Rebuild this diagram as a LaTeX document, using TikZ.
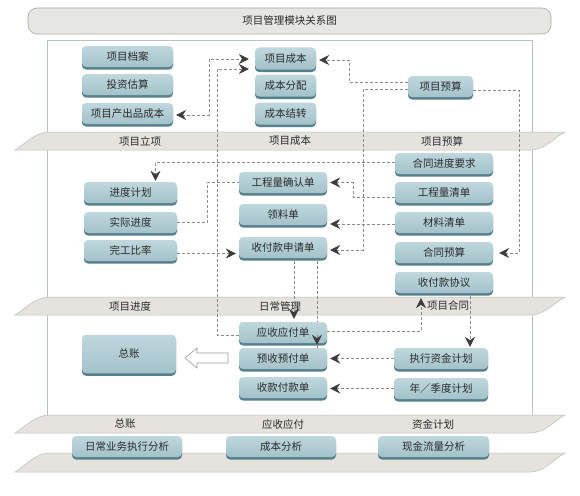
\documentclass[tikz,border=0pt]{standalone}
\usepackage{fontspec}
\newfontfamily\cjk{Noto Sans CJK SC}
\usetikzlibrary{arrows.meta,calc,shadows}
\definecolor{boxfill}{HTML}{A3C2CA}
\definecolor{boxtop}{HTML}{BFD7DD}
\definecolor{boxshade}{HTML}{56808B}
\definecolor{bandfill}{HTML}{E4E3DE}
\definecolor{bandline}{HTML}{BDBCB5}
\definecolor{framecol}{HTML}{B5C3C7}
\definecolor{dashcol}{HTML}{8A8A8A}
\definecolor{tipcol}{HTML}{3C3C3C}
\definecolor{txt}{HTML}{2B2B2B}
\definecolor{titlefill}{HTML}{E6E6E2}
\definecolor{titleline}{HTML}{A8A8A3}
\pgfdeclarelayer{bg}
\pgfsetlayers{bg,main}
\newcommand{\myband}[2]{\filldraw[band] (15,#2) .. controls (25,#2-6) and (35,#1) .. (50,#1) -- (565,#1) .. controls (552,#1+7) and (545,#2) .. (530,#2) -- cycle;}
\begin{document}
\begin{tikzpicture}[x=1pt,y=-1pt,
  >={Stealth[length=10pt,width=10pt,inset=3.5pt,color=tipcol]},
  box/.style={rounded corners=4pt, top color=boxtop, bottom color=boxfill,
    font=\cjk\fontsize{10.5}{12}\selectfont, text=txt, inner sep=0pt,
    minimum height=21pt,
    drop shadow={shadow xshift=0pt, shadow yshift=-2.5pt, fill=boxshade, opacity=1}},
  band/.style={fill=bandfill, draw=bandline, line width=0.5pt},
  bandlbl/.style={font=\cjk\fontsize{10.5}{12}\selectfont, text=txt, inner sep=0pt},
  title/.style={rounded corners=9pt, fill=titlefill, draw=titleline, line width=0.6pt,
    minimum width=523pt, minimum height=26pt, inner sep=0pt,
    font=\cjk\fontsize{10.5}{12}\selectfont, text=txt},
  conn/.style={draw=dashcol, line width=0.6pt, dash pattern=on 3pt off 2pt},
  arr/.style={conn, ->, shorten >=3pt},
  hollow/.style={fill=white, draw=gray!80, line width=0.6pt}
]
\useasboundingbox (0,0) rectangle (580,495);

\begin{pgfonlayer}{bg}
\draw[framecol, fill=white, line width=0.6pt] (47,40) rectangle (532,415);
\myband{132}{150}
\myband{297}{315}
\myband{415}{433}
\myband{453}{472}
\end{pgfonlayer}

\node[title] (title) at (289.5,21) {项目管理模块关系图};

% band labels
\node[bandlbl] (l1) at (140,141) {项目立项};
\node[bandlbl] (l2) at (290,141) {项目成本};
\node[bandlbl] (l3) at (442,141) {项目预算};
\node[bandlbl] (l4) at (130,306) {项目进度};
\node[bandlbl] (l5) at (280,306) {日常管理};
\node[bandlbl] (l6) at (448,306) {项目合同};
\node[bandlbl] (l7) at (125,424) {总账};
\node[bandlbl] (l8) at (283,424) {应收应付};
\node[bandlbl] (l9) at (433,424) {资金计划};

% top-left column
\node[box, minimum width=91pt] (xmda) at (127.5,56.5) {项目档案};
\node[box, minimum width=91pt] (tzgs) at (127.5,84.5) {投资估算};
\node[box, minimum width=91pt] (cpc)  at (127.5,113.5) {项目产出品成本};
% top-middle column
\node[box, minimum width=61pt, minimum height=22pt] (xmcb) at (285.5,58.5) {项目成本};
\node[box, minimum width=61pt, minimum height=22pt] (cbfp) at (285.5,85.5) {成本分配};
\node[box, minimum width=61pt, minimum height=22pt] (cbjz) at (285.5,113.5) {成本结转};
% top-right
\node[box, minimum width=65pt] (xmys) at (440.5,86.5) {项目预算};

% middle right column
\node[box, minimum width=98pt] (htjd)  at (444,163.5) {合同进度要求};
\node[box, minimum width=98pt] (gclqd) at (444,192.5) {工程量清单};
\node[box, minimum width=98pt] (clqd)  at (444,222.5) {材料清单};
\node[box, minimum width=98pt] (htys)  at (444,252.5) {合同预算};
\node[box, minimum width=98pt] (sfkxy) at (444,282.5) {收付款协议};
% middle left column
\node[box, minimum width=93pt] (jdjh) at (130.5,192.5) {进度计划};
\node[box, minimum width=93pt] (sjjd) at (130.5,222.5) {实际进度};
\node[box, minimum width=93pt] (wgbl) at (130.5,250.5) {完工比率};
% middle center column
\node[box, minimum width=88pt] (gclqr) at (283,182.5) {工程量确认单};
\node[box, minimum width=88pt] (llqd)  at (283,214.5) {领料单};
\node[box, minimum width=88pt] (sfksq) at (283,247.5) {收付款申请单};

% lower
\node[box, minimum width=94pt, minimum height=38.5pt] (zz) at (129,354) {总账};
\node[box, minimum width=88pt] (ysyf)   at (283,332.5) {应收应付单};
\node[box, minimum width=88pt] (yushou) at (283,358.5) {预收预付单};
\node[box, minimum width=88pt] (skfk)   at (283,387.5) {收款付款单};
\node[box, minimum width=94pt] (zxzj) at (441,358.5) {执行资金计划};
\node[box, minimum width=94pt] (nj)   at (441,388.5) {年／季度计划};

% bottom analysis boxes
\node[box, minimum width=110pt] (rcyw) at (127,446.5) {日常业务执行分析};
\node[box, minimum width=110pt] (cbfx) at (281,446.5) {成本分析};
\node[box, minimum width=111pt] (xjll) at (433.5,446.5) {现金流量分析};

% connectors
\draw[conn, <->, shorten <=3pt, shorten >=6pt] ($(cpc.east)+(0,1.5)$) -- ++(36,0) |- ($(xmcb.west)+(0,0.5)$);
\draw[arr, shorten >=6pt] ($(ysyf.west)+(0,2.5)$) -- ++(-22,0) |- ($(xmcb.west)+(0,10.5)$);
\draw[arr] ($(xmys.west)+(0,-4.5)$) -- ++(-59,0) |- ($(xmcb.east)+(0,1.5)$);
\draw[arr] ($(xmys.west)+(0,2.5)$) -- ++(-45,0) |- ($(sfksq.east)+(0,2.5)$);
\draw[arr, shorten >=6pt] ($(xmys.east)+(0,3.5)$) -- ++(46,0) |- ($(htys.east)+(0,0.5)$);
\draw[arr, shorten >=1pt] ($(htjd.west)+(0,-1.5)$) -| ($(jdjh.north)+(25,0)$);
\draw[conn] (sjjd.east) -- ++(30,0) |- (gclqr.west);
\draw[arr] ($(wgbl.east)+(0,3)$) -- ($(sfksq.west)+(0,6)$);
\draw[arr] ($(gclqd.west)+(0,4.5)$) -- ++(-42,0) |- (gclqr.east);
\draw[arr] ($(clqd.west)+(0,1.5)$) -- ($(llqd.east)+(0,9.5)$);
\draw[arr] ($(sfksq.south)+(11,2.5)$) -- ($(ysyf.north)+(11,0)$);
\begin{pgfonlayer}{bg}
\draw[conn] ($(sfksq.south)+(34,2.5)$) -- ($(yushou.north)+(34,0)$);
\end{pgfonlayer}
\draw[arr, shorten >=0pt] ($(ysyf.south)+(34,-8)$) -- ($(yushou.north)+(34,-3)$);
\draw[arr, shorten >=5pt] ($(ysyf.east)+(0,-1.5)$) -| ($(sfkxy.south)+(-23,0)$);
\draw[arr, shorten >=1pt] ($(sfkxy.south)+(26,2.5)$) -- ($(zxzj.north)+(29,0)$);
\draw[arr] (zxzj.west) -- (yushou.east);
\draw[arr] (nj.west) -- (nj.west -| skfk.east);

% hollow arrow to general ledger
\draw[hollow] (228,353) -- (197,353) -- (197,348) -- (185,358) -- (197,368) -- (197,363) -- (228,363) -- cycle;
\end{tikzpicture}
\end{document}
